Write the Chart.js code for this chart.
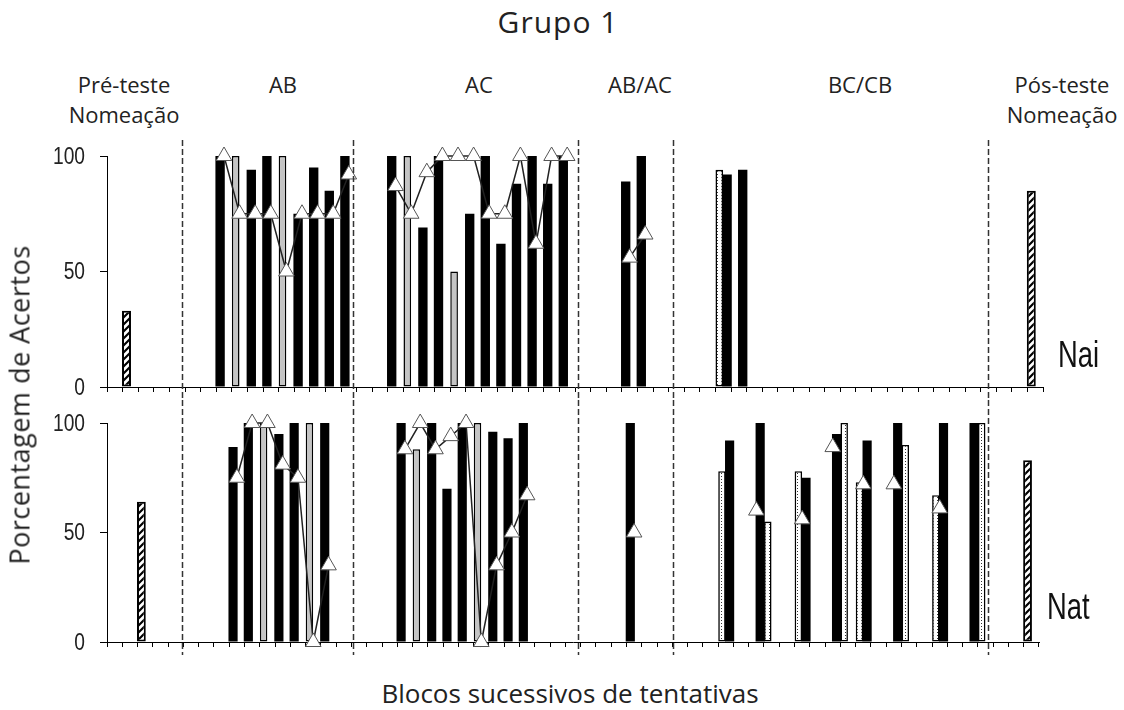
<!DOCTYPE html>
<html lang="pt-BR">
<head>
<meta charset="utf-8">
<title>Grupo 1</title>
<script src="https://cdn.jsdelivr.net/npm/chart.js@4.4.1/dist/chart.umd.min.js"></script>
<style>
  body { margin: 0; background: #fff; }
  #pagina { position: relative; width: 1124px; height: 710px; font-family: 'Open Sans', sans-serif; color: #222; overflow: hidden; }
  .texto { position: absolute; white-space: nowrap; }
  .fase { top: 69px; font-size: 22px; line-height: 30px; text-align: center; transform: translateX(-50%); }
  .painel { position: absolute; left: 0; width: 1124px; }
  .sujeito { font-family: 'Liberation Sans', Arial, sans-serif; font-size: 36px; line-height: 1; color: #111; transform-origin: 0 0; transform: scaleX(0.76); }
</style>
</head>
<body>
<div id="pagina">
  <div class="texto" style="left:558px; top:1px; font-size:30px; letter-spacing:1px; transform:translateX(-50%)">Grupo 1</div>

  <div class="texto fase" style="left:124px">Pré-teste<br>Nomeação</div>
  <div class="texto fase" style="left:283px">AB</div>
  <div class="texto fase" style="left:479px">AC</div>
  <div class="texto fase" style="left:640px">AB/AC</div>
  <div class="texto fase" style="left:860px">BC/CB</div>
  <div class="texto fase" style="left:1062px">Pós-teste<br>Nomeação</div>

  <div class="painel" style="top:140px; height:262px"><canvas id="graficoNai"></canvas></div>
  <div class="painel" style="top:400px; height:257px"><canvas id="graficoNat"></canvas></div>

  <div class="texto sujeito" style="left:1058px; top:337px">Nai</div>
  <div class="texto sujeito" style="left:1047px; top:589px">Nat</div>

  <div class="texto" style="left:19px; top:405px; font-size:27px; letter-spacing:0.5px; transform:translate(-50%,-50%) rotate(-90deg)">Porcentagem de Acertos</div>
  <div class="texto" style="left:570px; top:675px; font-size:26px; transform:translateX(-50%)">Blocos sucessivos de tentativas</div>
</div>

<script>
const _ = null;

// Nai: 60 blocos (posicao 0 = primeiro bloco)
const naiPreto = [
  _, _, _, _, _, _, _, 100, _, 94, 100, _, 75, 95, 85, 100, _, _, 100, _,
  69, 100, _, 75, 100, 62, 88, 100, 88, 100, _, _, _, 89, 100, _, _, _, _, _,
  _, _, _, _, _, _, _, _, _, _, _, _, _, _, _, _, _, _, _, _
];
const naiPretoDir = [
  _, _, _, _, _, _, _, _, _, _, _, _, _, _, _, _, _, _, _, _,
  _, _, _, _, _, _, _, _, _, _, _, _, _, _, _, _, _, _, _, 92,
  94, _, _, _, _, _, _, _, _, _, _, _, _, _, _, _, _, _, _, _
];
const naiCinza = [
  _, _, _, _, _, _, _, _, 100, _, _, 100, _, _, _, _, _, _, _, 100,
  _, _, 50, _, _, _, _, _, _, _, _, _, _, _, _, _, _, _, _, _,
  _, _, _, _, _, _, _, _, _, _, _, _, _, _, _, _, _, _, _, _
];
const naiPontilhado = [
  _, _, _, _, _, _, _, _, _, _, _, _, _, _, _, _, _, _, _, _,
  _, _, _, _, _, _, _, _, _, _, _, _, _, _, _, _, _, _, _, 94,
  _, _, _, _, _, _, _, _, _, _, _, _, _, _, _, _, _, _, _, _
];
const naiHachurado = [
  _, 33, _, _, _, _, _, _, _, _, _, _, _, _, _, _, _, _, _, _,
  _, _, _, _, _, _, _, _, _, _, _, _, _, _, _, _, _, _, _, _,
  _, _, _, _, _, _, _, _, _, _, _, _, _, _, _, _, _, _, _, 85
];
const naiTriangulo = [
  _, _, _, _, _, _, _, 100, 75, 75, 75, 50, 75, 75, 75, 92, _, _, 87, 75,
  93, 100, 100, 100, 75, 75, 100, 62, 100, 100, _, _, _, 56, 66, _, _, _, _, _,
  _, _, _, _, _, _, _, _, _, _, _, _, _, _, _, _, _, _, _, _
];

// Nat: 61 blocos
const natPreto = [
  _, _, _, _, _, _, _, _, 89, 100, _, 95, 100, _, 100, _, _, _, _, 100,
  _, 100, 70, 100, _, 96, 93, 100, _, _, _, _, _, _, 100, _, _, _, _, _,
  _, _, _, _, _, _, _, _, _, _, _, _, _, _, _, _, _, _, _, _, _
];
const natPretoDir = [
  _, _, _, _, _, _, _, _, _, _, _, _, _, _, _, _, _, _, _, _,
  _, _, _, _, _, _, _, _, _, _, _, _, _, _, _, _, _, _, _, _,
  92, _, 100, _, _, 75, _, 95, _, 92, _, 100, _, _, 100, _, 100, _, _, _, _
];
const natCinza = [
  _, _, _, _, _, _, _, _, _, _, 100, _, _, 100, _, _, _, _, _, _,
  88, _, _, _, 100, _, _, _, _, _, _, _, _, _, _, _, _, _, _, _,
  _, _, _, _, _, _, _, _, _, _, _, _, _, _, _, _, _, _, _, _, _
];
const natPontilhado = [
  _, _, _, _, _, _, _, _, _, _, _, _, _, _, _, _, _, _, _, _,
  _, _, _, _, _, _, _, _, _, _, _, _, _, _, _, _, _, _, _, _,
  78, _, _, 55, _, 78, _, _, 100, 73, _, _, 90, _, 67, _, _, 100, _, _, _
];
const natHachurado = [
  _, _, 64, _, _, _, _, _, _, _, _, _, _, _, _, _, _, _, _, _,
  _, _, _, _, _, _, _, _, _, _, _, _, _, _, _, _, _, _, _, _,
  _, _, _, _, _, _, _, _, _, _, _, _, _, _, _, _, _, _, _, _, 83
];
const natTriangulo = [
  _, _, _, _, _, _, _, _, 75, 100, 100, 81, 75, 0, 35, _, _, _, _, 88,
  100, 88, 94, 100, 0, 35, 50, 67, _, _, _, _, _, _, 50, _, _, _, _, _,
  _, _, 60, _, _, 56, _, 89, _, 72, _, 72, _, _, 61, _, _, _, _, _, _
];

const yTicks = [0, 50, 100];
// limites entre as fases (em blocos, contados no painel Nai)
const separadores = [4.8, 15.8, 30.2, 36.3, 56.5];

function padraoHachurado() {
  const c = document.createElement('canvas');
  c.width = 7; c.height = 7;
  const g = c.getContext('2d');
  g.fillStyle = '#fff';
  g.fillRect(0, 0, 7, 7);
  g.strokeStyle = '#000';
  g.lineWidth = 2.2;
  g.beginPath();
  g.moveTo(-1, 8); g.lineTo(8, -1);
  g.moveTo(-4, 4); g.lineTo(4, -4);
  g.moveTo(3, 11); g.lineTo(11, 3);
  g.stroke();
  return g.createPattern(c, 'repeat');
}

function padraoPontilhado() {
  const c = document.createElement('canvas');
  c.width = 4; c.height = 3;
  const g = c.getContext('2d');
  g.fillStyle = '#fff';
  g.fillRect(0, 0, 4, 3);
  g.fillStyle = '#333';
  g.fillRect(1, 1, 1, 1);
  return g.createPattern(c, 'repeat');
}

const hachura = padraoHachurado();
const pontos = padraoPontilhado();

function barras(rotulo, valores, pilha, fundo, borda, larguraBorda, proporcao) {
  return {
    type: 'bar',
    label: rotulo,
    data: valores,
    stack: pilha,
    backgroundColor: fundo,
    borderColor: borda,
    borderWidth: larguraBorda,
    borderSkipped: false,
    barPercentage: proporcao,
    categoryPercentage: 1,
    order: 2
  };
}

function linha(valores) {
  return {
    type: 'line',
    label: 'Teste',
    data: valores,
    borderColor: '#222',
    borderWidth: 1.5,
    pointStyle: 'triangle',
    pointRadius: 9,
    pointBackgroundColor: '#fff',
    pointBorderColor: '#555',
    pointBorderWidth: 1,
    spanGaps: false,
    tension: 0,
    clip: false,
    order: 0
  };
}

// linhas tracejadas que separam as fases
const linhasFase = {
  id: 'linhasFase',
  afterDraw(chart) {
    const topo = Chart.getChart('graficoNai');
    const escala = topo && topo.scales.x ? topo.scales.x : chart.scales.x;
    const ctx = chart.ctx;
    ctx.save();
    ctx.strokeStyle = '#333';
    ctx.lineWidth = 1.5;
    ctx.setLineDash([6, 3]);
    separadores.forEach(p => {
      const x = Math.round(escala.getPixelForValue(p - 0.5)) + 0.5;
      ctx.beginPath();
      ctx.moveTo(x, 0);
      ctx.lineTo(x, chart.height - 2);
      ctx.stroke();
    });
    ctx.restore();
  }
};

// rotulos do eixo y em fonte estreita (Arial Narrow no original)
const rotulosY = {
  id: 'rotulosY',
  afterDraw(chart) {
    const y = chart.scales.y;
    const ctx = chart.ctx;
    ctx.save();
    ctx.fillStyle = '#222';
    ctx.font = "24px 'Liberation Sans', Arial, sans-serif";
    ctx.textAlign = 'right';
    ctx.textBaseline = 'middle';
    y.ticks.forEach(t => {
      ctx.save();
      ctx.translate(y.right - 22, y.getPixelForValue(t.value) + 1);
      ctx.scale(0.8, 1);
      ctx.fillText(String(t.value), 0, 0);
      ctx.restore();
    });
    ctx.restore();
  }
};

function montarGrafico(id, dados, margem) {
  const blocos = dados.preto.map((v, i) => String(i + 1));
  return new Chart(document.getElementById(id), {
    data: {
      labels: blocos,
      datasets: [
        barras('Treino', dados.preto, 'esq', '#000', '#000', 0, 1.2),
        barras('Treino (cinza)', dados.cinza, 'esq', '#c4c4c4', '#000', 1.5, 0.98),
        barras('Misto', dados.pontilhado, 'esq', pontos, '#000', 1.6, 0.98),
        barras('Nomeação', dados.hachurado, 'esq', hachura, '#000', 2, 1.15),
        barras('Treino (2)', dados.pretoDir, 'dir', '#000', '#000', 0, 1.2),
        linha(dados.triangulo)
      ]
    },
    options: {
      responsive: true,
      maintainAspectRatio: false,
      animation: false,
      layout: { padding: margem },
      plugins: { legend: { display: false }, tooltip: { enabled: false } },
      scales: {
        x: {
          type: 'category',
          stacked: true,
          offset: true,
          grid: { display: true, drawOnChartArea: false, drawTicks: true, tickLength: 5, tickColor: '#000', offset: true },
          border: { display: true, color: '#000', width: 1 },
          ticks: { display: false, autoSkip: false },
          afterFit: s => { s.height = 15; }
        },
        y: {
          min: 0,
          max: 100,
          stacked: false,
          afterBuildTicks: s => { s.ticks = yTicks.map(v => ({ value: v })); },
          ticks: { display: false },
          grid: { drawOnChartArea: false, drawTicks: true, tickLength: 7, tickColor: '#000' },
          border: { display: true, color: '#000', width: 1 },
          afterFit: s => { s.width = 107; s.paddingTop = 0; s.paddingBottom = 0; }
        }
      }
    },
    plugins: [linhasFase, rotulosY]
  });
}

const graficoNai = montarGrafico('graficoNai', {
  preto: naiPreto, pretoDir: naiPretoDir, cinza: naiCinza,
  pontilhado: naiPontilhado, hachurado: naiHachurado, triangulo: naiTriangulo
}, { top: 16, right: 81, left: 0, bottom: 0 });

const graficoNat = montarGrafico('graficoNat', {
  preto: natPreto, pretoDir: natPretoDir, cinza: natCinza,
  pontilhado: natPontilhado, hachurado: natHachurado, triangulo: natTriangulo
}, { top: 23, right: 85, left: 0, bottom: 0 });
</script>
</body>
</html>
